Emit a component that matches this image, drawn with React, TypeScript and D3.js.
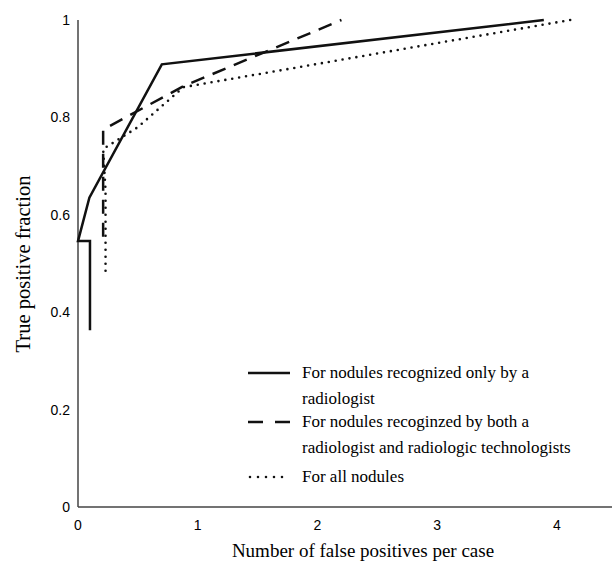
import React, { useEffect, useRef } from "react"
import * as d3 from "d3"

// x = false positives per case, y = true positive fraction
const radiologistOnly: [number, number][] = [
  [0.1, 0.363],
  [0.1, 0.546],
  [0, 0.546],
  [0.095, 0.635],
  [0.7, 0.909],
  [3.89, 1.0],
]
const bothReaders: [number, number][] = [
  [0.21, 0.555],
  [0.21, 0.775],
  [0.88, 0.864],
  [2.2, 1.0],
]
const allNodules: [number, number][] = [
  [0.23, 0.485],
  [0.23, 0.65],
  [0.21, 0.735],
  [0.5, 0.78],
  [0.88, 0.862],
  [4.11, 1.0],
]

const xTicks = [0, 1, 2, 3, 4]
const yTicks = [0, 0.2, 0.4, 0.6, 0.8, 1]
const legendLabels = [
  ["For nodules recognized only by a", "radiologist"],
  ["For nodules recoginzed by both a", "radiologist and radiologic technologists"],
  ["For all nodules"],
]

const width = 612
const height = 564
const serif = "'Liberation Serif', 'Times New Roman', serif"
const sans = "'Liberation Sans', Arial, Helvetica, sans-serif"

const styles = [
  { dash: null, w: 2.5, cap: "butt" },
  { dash: "14,9", w: 2.5, cap: "butt" },
  { dash: "0,7", w: 2.6, cap: "round" },
]

export default function App() {
  const ref = useRef<SVGSVGElement>(null)

  useEffect(() => {
    const svg = d3.select(ref.current)
    svg.selectAll("*").remove()

    const x = d3.scaleLinear().domain([0, 4]).range([78, 557])
    const y = d3.scaleLinear().domain([0, 1]).range([507, 20])

    // axes (lines only, no tick marks)
    svg
      .append("line")
      .attr("x1", x(0))
      .attr("x2", width)
      .attr("y1", y(0))
      .attr("y2", y(0))
      .attr("stroke", "#444")
      .attr("stroke-width", 1.5)
    svg
      .append("line")
      .attr("x1", x(0))
      .attr("x2", x(0))
      .attr("y1", y(0))
      .attr("y2", y(1))
      .attr("stroke", "#444")
      .attr("stroke-width", 1.5)

    svg
      .selectAll(".xt")
      .data(xTicks)
      .enter()
      .append("text")
      .attr("x", (d) => x(d))
      .attr("y", y(0) + 23)
      .attr("text-anchor", "middle")
      .style("font-family", sans)
      .style("font-size", "14px")
      .text((d) => String(d))

    svg
      .selectAll(".yt")
      .data(yTicks)
      .enter()
      .append("text")
      .attr("x", 70)
      .attr("y", (d) => y(d) + 5)
      .attr("text-anchor", "end")
      .style("font-family", sans)
      .style("font-size", "14px")
      .text((d) => String(d))

    svg
      .append("text")
      .attr("x", 363)
      .attr("y", 557)
      .attr("text-anchor", "middle")
      .style("font-family", serif)
      .style("font-size", "19px")
      .text("Number of false positives per case")

    svg
      .append("text")
      .attr("transform", "translate(30," + 264 + ") rotate(-90)")
      .attr("text-anchor", "middle")
      .style("font-family", serif)
      .style("font-size", "20.5px")
      .text("True positive fraction")

    const line = d3
      .line<[number, number]>()
      .x((d) => x(d[0]))
      .y((d) => y(d[1]))

    const series = [radiologistOnly, bothReaders, allNodules]
    series.forEach((s, i) => {
      const p = svg
        .append("path")
        .attr("d", line(s))
        .attr("fill", "none")
        .attr("stroke", "#111")
        .attr("stroke-width", styles[i].w)
        .attr("stroke-linecap", styles[i].cap)
        .attr("stroke-linejoin", "miter")
      if (styles[i].dash) p.attr("stroke-dasharray", styles[i].dash)
    })

    // legend
    const rowY = [373, 422, 477]
    legendLabels.forEach((lines, i) => {
      const p = svg
        .append("line")
        .attr("x1", i === 2 ? 250 : 248)
        .attr("x2", 290)
        .attr("y1", rowY[i])
        .attr("y2", rowY[i])
        .attr("stroke", "#111")
        .attr("stroke-width", styles[i].w)
        .attr("stroke-linecap", styles[i].cap)
      if (styles[i].dash) p.attr("stroke-dasharray", i === 1 ? "15,12" : "0,8")
      lines.forEach((t, j) => {
        svg
          .append("text")
          .attr("x", 302)
          .attr("y", rowY[i] + 5 + j * 26)
          .style("font-family", serif)
          .style("font-size", "17px")
          .text(t)
      })
    })
  }, [])

  return (
    <svg
      ref={ref}
      width={width}
      height={height}
      style={{ position: "absolute", left: 0, top: 0, background: "#fff" }}
    />
  )
}
